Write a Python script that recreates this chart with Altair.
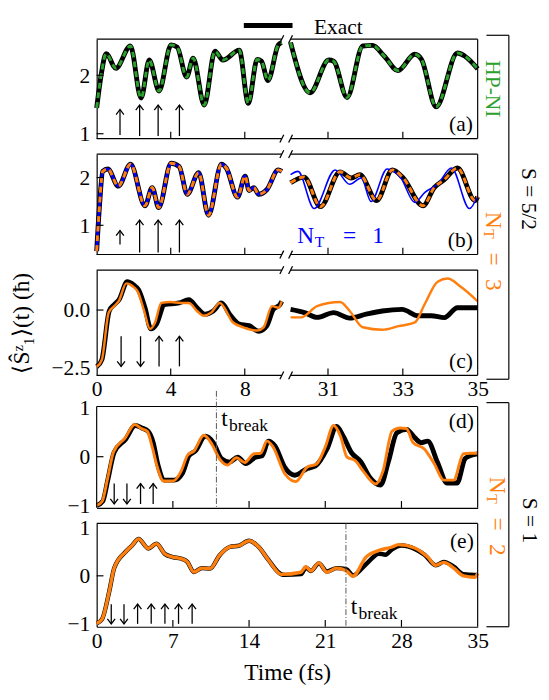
import altair as alt
import pandas as pd

FONT = "Liberation Serif"
ORANGE = "#ff7f0e"
GREEN = "#2ca02c"
BLUE = "#0000ff"
BLACK = "#000000"

# ---------------- data ----------------
# (a) S=5/2, exact (HP-NI coincides)
a_left_t = [0, 0.25, 0.51, 1.04, 1.82, 2.4, 2.84, 3.37, 4.02, 4.35, 4.86, 5.21, 5.81, 6.39, 6.82, 7.7, 8.19, 8.67, 8.9, 9.25, 9.81, 10]
a_left_v = [1.44, 2.02, 2.37, 2.12, 2.50, 1.61, 2.26, 1.73, 2.52, 2.48, 1.97, 2.29, 1.49, 2.41, 2.26, 2.43, 1.52, 2.27, 2.24, 1.91, 2.52, 2.56]
a_right_t = [30.0, 30.52, 31.02, 31.15, 31.51, 31.93, 32.19, 32.5, 32.87, 33.32, 33.5, 33.89, 34.46, 34.65, 35.0]
a_right_v = [2.56, 1.70, 2.26, 2.24, 1.62, 2.50, 2.51, 2.33, 2.08, 2.36, 2.27, 1.46, 2.38, 2.33, 2.11]

# (b) exact (= N_T=3 = N_T=1 at short times)
b_left_t = [0, 0.15, 0.33, 0.6, 1.17, 1.83, 2.61, 3.0, 3.35, 4.02, 4.46, 4.89, 5.51, 6.04, 6.74, 7.0, 7.61, 8.02, 8.23, 8.49, 8.75, 9.2, 9.81, 10]
b_left_v = [0.46, 1.4, 2.13, 2.18, 1.82, 2.28, 1.41, 1.79, 1.37, 2.30, 2.23, 1.65, 2.10, 1.21, 2.28, 2.2, 1.59, 2.03, 1.73, 1.79, 1.65, 1.75, 2.16, 2.13]
b_right_t = [30.0, 30.36, 30.8, 31.32, 31.62, 31.85, 32.3, 32.72, 33.0, 33.54, 33.84, 34.1, 34.46, 34.93, 35.0]
b_right_v = [1.89, 2.01, 1.39, 2.12, 1.99, 2.06, 1.52, 2.16, 2.0, 1.41, 1.79, 1.95, 2.20, 1.52, 1.6]
b_nt1_t = [30.0, 30.2, 30.63, 31.19, 31.58, 31.89, 32.15, 32.58, 32.94, 33.32, 33.59, 33.93, 34.3, 34.78, 35.0]
b_nt1_v = [2.06, 2.13, 1.35, 2.16, 1.86, 1.99, 1.50, 2.18, 2.0, 1.48, 1.69, 1.86, 2.20, 1.35, 1.62]

# (c) exact and N_T=3
c_ex_left_t = [0, 0.28, 0.68, 0.95, 1.21, 1.65, 2.0, 2.26, 2.61, 2.93, 3.23, 3.66, 4.46, 4.98, 5.42, 5.86, 6.3, 6.74, 7.18, 7.7, 8.23, 8.75, 9.19, 9.54, 9.9, 10]
c_ex_left_v = [-2.47, -2.16, -0.04, 0.24, 0.45, 1.23, 1.09, 0.88, 0.1, -0.82, -0.61, 0.24, 0.31, 0.45, 0.1, -0.18, -0.04, 0.31, -0.18, -0.61, -0.68, -0.92, -0.68, 0.03, 0.24, 0.38]
c_nt_left_t = [0, 0.28, 0.65, 0.95, 1.2, 1.6, 2.0, 2.23, 2.55, 2.88, 3.15, 3.49, 4.0, 4.54, 4.98, 5.42, 5.77, 6.2, 6.65, 7.35, 7.88, 8.67, 9.02, 9.47, 9.82, 10]
c_nt_left_v = [-2.47, -2.16, -0.11, 0.17, 0.4, 1.16, 1.0, 0.78, 0.0, -0.82, -0.55, 0.31, 0.35, 0.31, 0.31, -0.04, -0.25, -0.1, 0.31, -0.53, -0.74, -0.89, -0.75, 0.17, 0.1, 0.38]
c_ex_right_t = [30.0, 30.37, 30.71, 31.15, 31.58, 32.02, 32.45, 32.98, 33.41, 33.76, 34.11, 34.46, 35.0]
c_ex_right_v = [0.03, -0.11, -0.32, -0.11, -0.35, -0.18, -0.04, 0.03, -0.25, -0.25, -0.33, 0.1, 0.1]
c_nt_right_t = [30.0, 30.28, 30.71, 31.32, 31.58, 31.93, 32.45, 32.89, 33.32, 33.58, 33.93, 34.2, 34.54, 35.0]
c_nt_right_v = [-0.32, -0.32, 0.17, 0.35, -0.04, -0.75, -0.86, -0.7, -0.54, 0.24, 1.23, 1.37, 1.02, 0.38]

# (d) S=1, exact and N_T=2
d_ex_t = [0, 0.57, 1.0, 1.61, 2.66, 3.55, 4.15, 4.74, 5.19, 5.64, 6.24, 7.13, 7.88, 8.48, 9.07, 9.97, 10.71, 11.46, 12.2, 12.95, 13.7, 14.59, 15.19, 15.78, 16.38, 17.28, 18.2, 19.36, 20.1, 21.16, 22.05, 22.65, 23.39, 24.29, 25.04, 26.08, 26.8, 27.58, 28.47, 29.22, 29.81, 30.41, 31.3, 32.2, 33.1, 33.84, 34.29, 35.0]
d_ex_v = [-1.0, -0.91, -0.5, 0.09, 0.36, 0.64, 0.59, 0.52, 0.29, -0.18, -0.48, -0.48, -0.34, 0.02, 0.12, 0.42, 0.29, -0.04, -0.11, -0.01, -0.14, -0.01, 0.02, 0.32, 0.22, -0.22, -0.38, -0.24, -0.19, 0.16, 0.62, 0.42, 0.09, -0.11, -0.41, -0.58, -0.1, 0.49, 0.56, 0.39, 0.29, 0.32, -0.11, -0.54, -0.54, -0.04, 0.02, 0.06]
d_nt_t = [0, 0.5, 1.0, 1.55, 2.6, 3.5, 4.1, 4.65, 5.1, 5.55, 6.15, 7.0, 7.75, 8.35, 8.95, 9.85, 10.6, 11.3, 12.0, 12.85, 13.6, 14.45, 15.05, 15.65, 16.2, 17.28, 18.3, 19.35, 20.2, 21.0, 21.76, 22.4, 23.0, 23.75, 24.5, 25.63, 26.3, 27.13, 27.87, 28.45, 29.06, 30.1, 31.0, 31.9, 32.8, 33.69, 34.3, 35.0]
d_nt_v = [-1.0, -0.92, -0.45, 0.1, 0.38, 0.66, 0.58, 0.52, 0.2, -0.2, -0.5, -0.5, -0.3, 0.03, 0.12, 0.44, 0.25, -0.05, -0.17, -0.02, -0.12, 0.06, 0.07, 0.32, 0.2, -0.35, -0.51, -0.21, -0.15, 0.2, 0.64, 0.42, -0.01, -0.08, -0.3, -0.56, -0.3, 0.52, 0.59, 0.58, 0.29, 0.16, -0.14, -0.48, -0.48, 0.06, 0.07, 0.07]

# (e) S=1, exact and N_T=2
e_ex_t = [0, 0.5, 1.16, 1.61, 2.66, 3.25, 3.85, 4.74, 5.49, 6.24, 6.98, 7.73, 8.33, 8.92, 9.67, 10.41, 11.3, 12.2, 13.1, 13.99, 14.89, 15.78, 16.98, 17.28, 18.77, 19.22, 19.66, 20.41, 21.16, 22.05, 22.95, 23.54, 24.74, 25.93, 26.53, 27.13, 28.02, 29.22, 30.11, 31.15, 31.9, 32.8, 33.69, 34.74, 35.0]
e_ex_v = [-0.99, -0.9, -0.32, 0.16, 0.5, 0.63, 0.77, 0.57, 0.67, 0.46, 0.39, 0.36, 0.29, 0.08, 0.16, 0.15, 0.43, 0.6, 0.63, 0.73, 0.6, 0.33, 0.03, 0.02, 0.035, 0.17, 0.10, 0.26, 0.09, 0.16, 0.14, 0.01, 0.24, 0.46, 0.44, 0.55, 0.63, 0.56, 0.44, 0.22, 0.29, 0.19, 0.035, 0.02, 0.02]
e_nt_t = [0, 0.5, 1.16, 1.61, 2.66, 3.25, 3.85, 4.74, 5.49, 6.24, 6.98, 7.73, 8.33, 8.92, 9.67, 10.41, 11.3, 12.2, 13.1, 13.99, 14.89, 15.78, 16.98, 18.77, 19.22, 19.66, 20.41, 21.16, 22.05, 22.95, 23.54, 24.74, 25.93, 27.13, 27.72, 29.22, 30.41, 31.15, 31.9, 32.8, 33.69, 34.74, 35.0]
e_nt_v = [-0.99, -0.9, -0.32, 0.16, 0.5, 0.63, 0.77, 0.57, 0.67, 0.46, 0.39, 0.36, 0.29, 0.08, 0.16, 0.15, 0.43, 0.6, 0.63, 0.73, 0.6, 0.33, 0.03, 0.075, 0.19, 0.10, 0.27, 0.075, 0.16, 0.1, -0.01, 0.39, 0.53, 0.6, 0.65, 0.58, 0.39, 0.22, 0.28, 0.16, 0.0, -0.03, 0.05]

# arrows: position, tail value, head value
arrow_a_t = [1.26, 2.32, 3.32, 4.47]
arrow_a_from = [0.98, 0.96, 0.96, 0.96]
arrow_a_to = [1.415, 1.49, 1.49, 1.49]
arrow_b_t = [1.26, 2.32, 3.32, 4.47]
arrow_b_from = [0.60, 0.43, 0.43, 0.43]
arrow_b_to = [0.89, 1.11, 1.11, 1.11]
arrow_c_t = [1.32, 2.37, 3.37, 4.47]
arrow_c_from = [-1.14, -1.14, -2.45, -2.45]
arrow_c_to = [-2.45, -2.45, -1.14, -1.14]
arrow_d_t = [1.61, 2.78, 4.03, 5.19]
arrow_d_from = [-0.55, -0.55, -0.97, -0.97]
arrow_d_to = [-0.97, -0.97, -0.55, -0.55]
arrow_e_t = [1.34, 2.51, 3.76, 5.01, 6.27, 7.52, 8.77]
arrow_e_from = [-0.59, -0.59, -1.0, -1.0, -1.0, -1.0, -1.0]
arrow_e_to = [-1.0, -1.0, -0.59, -0.59, -0.59, -0.59, -0.59]

t_break_d = 11.0
t_break_e = 22.9

# axes
xticks_broken = [0, 4, 8, 31, 33, 35]
xinner_broken = [4, 8, 31, 33]
xticks_full = [0, 7, 14, 21, 28, 35]
xinner_full = [7, 14, 21, 28]
ydom_a = [0.917, 2.617]
ydom_b = [0.388, 2.49]
ydom_c = [-2.84, 1.737]
ydom_d = [-1.05, 1.03]
ydom_d_cell = [-1.05, 1.35]   # extra blank band above (d) to widen the gap to (c)
ydom_e = [-1.06, 1.09]
yticks_a = [1, 2]
yticks_b = [1, 2]
yticks_c = [-2.5, 0.0]
yticks_de = [-1, 0, 1]

legend_label = "Exact"


# broken time axis: 0-10 on the left part, 30-35 on the right part
def uexpr(f):
    return "datum.%s <= 20 ? datum.%s * 19 : 199 + (datum.%s - 30) * 38.4" % (f, f, f)


ULABEL = "datum.value < 195 ? '' + round(datum.value / 19) : '' + round(30 + (datum.value - 199) / 38.4)"

ONE = alt.Data(values=[{"k": 1}])
UP_HEAD = "M-0.65,0.85L0,0L0.65,0.85"
DOWN_HEAD = "M-0.65,-0.85L0,0L0.65,-0.85"
BREAK = "M-0.5,1L0.5,-1"

W = 391


class Panel:
    def __init__(self, broken, ydom, yticks, fmt="d", xlabels=False, xtitle=None, ytitle=None,
                 ydom_scale=None, ydomain_line=True):
        self.broken = broken
        self.ydom = ydom
        if broken:
            self.xsc = alt.Scale(domain=[0, W], nice=False, zero=False)
            vals = [self.u(t) for t in xticks_broken]
            self.xax = alt.Axis(values=vals, labels=xlabels, labelExpr=ULABEL, ticks=False, grid=False,
                                domain=False, labelPadding=4, labelFontSize=22, labelFlush=False,
                                labelOverlap=False, title=xtitle, titleFontSize=24, titlePadding=10)
        else:
            self.xsc = alt.Scale(domain=[0, 35], nice=False, zero=False)
            self.xax = alt.Axis(values=xticks_full, labels=xlabels, ticks=False, grid=False,
                                domain=True, labelPadding=4, labelFontSize=22, labelFlush=False,
                                labelOverlap=False, title=xtitle, titleFontSize=24, titlePadding=10)
        self.ysc = alt.Scale(domain=ydom_scale or ydom, nice=False, zero=False)
        self.yax = alt.Axis(values=yticks, format=fmt, ticks=False, grid=False,
                            domain=ydomain_line, labelPadding=7, labelFontSize=22,
                            labelOverlap=False, title=ytitle, titleFontSize=24, titlePadding=18)

    def u(self, t):
        return t * 19 if t <= 20 else 199 + (t - 30) * 38.4

    def X(self, f="t"):
        name = ("u" + f[1:]) if self.broken else f
        return alt.X(name + ":Q", scale=self.xsc, axis=self.xax)

    def Y(self, f="v"):
        return alt.Y(f + ":Q", scale=self.ysc, axis=self.yax)

    def prep(self, ch, fields=("t",)):
        if self.broken:
            return ch.transform_calculate(**{("u" + f[1:]): uexpr(f) for f in fields})
        return ch

    def line(self, t, v, color, width, dash=None):
        kw = dict(strokeWidth=width, interpolate="monotone")
        if dash:
            kw["strokeDash"] = dash
        df = pd.DataFrame({"t": t, "v": v})
        ch = alt.Chart(df).mark_line(color=color, **kw).encode(x=self.X(), y=self.Y())
        return self.prep(ch)

    def arrows(self, ts, v0, v1):
        df = pd.DataFrame({"t": ts, "v0": v0, "v1": v1})
        out = [self.prep(alt.Chart(df).mark_rule(color=BLACK, strokeWidth=1.3).encode(
            x=self.X(), y=self.Y("v0"), y2=alt.Y2("v1")))]
        up = df[df.v1 > df.v0]
        dn = df[df.v1 < df.v0]
        for sub, shape in ((up, UP_HEAD), (dn, DOWN_HEAD)):
            if len(sub):
                out.append(self.prep(alt.Chart(sub).mark_point(
                    shape=shape, filled=False, size=150, color=BLACK, strokeWidth=1.3, opacity=1
                ).encode(x=self.X(), y=self.Y("v1"))))
        return out

    def frame(self, yin, left_rule=False):
        y0, y1 = self.ydom
        out = []
        xin = xinner_broken if self.broken else xinner_full
        out.append(self.prep(alt.Chart(pd.DataFrame({"t": xin, "v": [y0] * len(xin)}))
                             .mark_tick(orient="vertical", size=7, thickness=1.2, color=BLACK,
                                        yOffset=-3.5, opacity=1).encode(x=self.X(), y=self.Y())))
        out.append(self.prep(alt.Chart(pd.DataFrame({"t": [0] * len(yin), "v": yin}))
                             .mark_tick(orient="horizontal", size=7, thickness=1.2, color=BLACK,
                                        xOffset=3.5, opacity=1).encode(x=self.X(), y=self.Y())))
        out.append(self.prep(alt.Chart(pd.DataFrame({"t": [35], "v": [y0], "v2": [y1]}))
                             .mark_rule(color=BLACK, strokeWidth=1.2)
                             .encode(x=self.X(), y=self.Y(), y2=alt.Y2("v2"))))
        if left_rule:
            out.append(self.prep(alt.Chart(pd.DataFrame({"t": [0], "v": [y0], "v2": [y1]}))
                                 .mark_rule(color=BLACK, strokeWidth=1.2)
                                 .encode(x=self.X(), y=self.Y(), y2=alt.Y2("v2"))))
        if self.broken:
            seg = pd.DataFrame({"t": [0, 30, 0, 30], "t1": [10, 35, 10, 35], "v": [y0, y0, y1, y1]})
            out.append(self.prep(alt.Chart(seg).mark_rule(color=BLACK, strokeWidth=1.2)
                                 .encode(x=self.X(), x2=alt.X2("u1"), y=self.Y()), fields=("t", "t1")))
            out.append(self.prep(alt.Chart(pd.DataFrame({"t": [10, 10, 30, 30], "v": [y0, y1, y0, y1]}))
                                 .mark_point(shape=BREAK, filled=False, size=64, color=BLACK,
                                             strokeWidth=1.3, opacity=1)
                                 .encode(x=self.X(), y=self.Y())))
        else:
            out.append(alt.Chart(pd.DataFrame({"t": [0], "t1": [35], "v": [y1]}))
                       .mark_rule(color=BLACK, strokeWidth=1.2)
                       .encode(x=self.X(), x2=alt.X2("t1"), y=self.Y()))
        return out

    def text(self, text, tx, vy, size, color=BLACK, align="left", baseline="alphabetic", dx=0, dy=0):
        return self.prep(alt.Chart(pd.DataFrame({"t": [tx], "v": [vy]})).mark_text(
            text=text, font=FONT, fontSize=size, color=color, align=align, baseline=baseline,
            dx=dx, dy=dy).encode(x=self.X(), y=self.Y()))

    def tbreak(self, tb, vy):
        return [
            self.prep(alt.Chart(pd.DataFrame({"t": [tb]})).mark_rule(
                color="#555555", strokeWidth=1, strokeDash=[6, 2, 1, 2]).encode(x=self.X())),
            self.text("t", tb, vy, 24, dx=5),
            self.text("break", tb, vy, 18, dx=13, dy=5),
        ]


def ptxt(text, x, y, size, color=BLACK, angle=0, align="left", baseline="alphabetic", dx=0, dy=0):
    return alt.Chart(ONE).mark_text(text=text, font=FONT, fontSize=size, color=color, angle=angle,
                                    align=align, baseline=baseline, dx=dx, dy=dy).encode(
        x=alt.value(x), y=alt.value(y))


def prule(x, y, x2=None, y2=None, width=1.2):
    enc = dict(x=alt.value(x), y=alt.value(y))
    if x2 is not None:
        enc["x2"] = alt.value(x2)
    if y2 is not None:
        enc["y2"] = alt.value(y2)
    return alt.Chart(ONE).mark_rule(color=BLACK, strokeWidth=width).encode(**enc)


def nt_rotated(x, y, digit, color):
    return [
        ptxt("N", x, y, 24, color=color, angle=90, baseline="middle"),
        ptxt("T", x, y, 16, color=color, angle=90, baseline="middle", dx=18, dy=5),
        ptxt("=", x, y, 24, color=color, angle=90, baseline="middle", dx=42),
        ptxt(digit, x, y, 24, color=color, angle=90, baseline="middle", dx=69),
    ]


# ---------------- (a) ----------------
P = Panel(True, ydom_a, yticks_a)
a_panel = alt.layer(
    P.line(a_left_t, a_left_v, BLACK, 5),
    P.line(a_left_t, a_left_v, GREEN, 3, [6, 4]),
    P.line(a_right_t, a_right_v, BLACK, 5),
    P.line(a_right_t, a_right_v, GREEN, 3, [6, 4]),
    *P.arrows(arrow_a_t, arrow_a_from, arrow_a_to),
    *P.frame([1, 2]),
    P.text("(a)", 35, ydom_a[0], 22, align="right", baseline="bottom", dx=-5, dy=-3),
    # legend
    prule(151, -14, x2=201, width=5),
    ptxt(legend_label, 223, -12, 22, baseline="middle"),
    ptxt("HP-NI", 407, 51, 22, color=GREEN, angle=90, align="center", baseline="middle"),
    ptxt("S = 5/2", 444, 164, 22, angle=90, align="center", baseline="middle"),
    prule(423, -4, y2=349),
    prule(400, -4, x2=423),
    prule(400, 349, x2=423),
).properties(width=W, height=102)

# ---------------- (b) ----------------
P = Panel(True, ydom_b, yticks_b)
b_panel = alt.layer(
    P.line(b_left_t, b_left_v, BLACK, 5),
    P.line(b_left_t, b_left_v, BLUE, 3),
    P.line(b_left_t, b_left_v, ORANGE, 3, [6, 4]),
    P.line(b_right_t, b_right_v, BLACK, 5),
    P.line(b_nt1_t, b_nt1_v, BLUE, 1.6),
    P.line(b_right_t, b_right_v, ORANGE, 3, [6, 4]),
    *P.arrows(arrow_b_t, arrow_b_from, arrow_b_to),
    *P.frame([1, 2]),
    P.text("(b)", 35, ydom_b[0], 22, align="right", baseline="bottom", dx=-5, dy=-3),
    P.text("N", 30.18, 0.633, 24, color=BLUE),
    P.text("T", 30.18, 0.633, 16, color=BLUE, dx=18, dy=4),
    P.text("=", 30.18, 0.633, 24, color=BLUE, dx=47),
    P.text("1", 30.18, 0.633, 24, color=BLUE, dx=77),
    *nt_rotated(407, 59, "3", ORANGE),
).properties(width=W, height=103)

# ---------------- (c) ----------------
P = Panel(True, ydom_c, yticks_c, fmt=".1f", xlabels=True, ytitle="⟨Ŝᶻ₁⟩(t) (ħ)")
c_panel = alt.layer(
    P.line(c_ex_left_t, c_ex_left_v, BLACK, 5),
    P.line(c_nt_left_t, c_nt_left_v, ORANGE, 2.5),
    P.line(c_ex_right_t, c_ex_right_v, BLACK, 5),
    P.line(c_nt_right_t, c_nt_right_v, ORANGE, 2.5),
    *P.arrows(arrow_c_t, arrow_c_from, arrow_c_to),
    *P.frame([0.0]),
    P.text("(c)", 35, ydom_c[0], 22, align="right", baseline="bottom", dx=-5, dy=-3),
).properties(width=W, height=108)

# ---------------- (d) ----------------
P = Panel(False, ydom_d, yticks_de, ydom_scale=ydom_d_cell, ydomain_line=False)
d_panel = alt.layer(
    P.line(d_ex_t, d_ex_v, BLACK, 5),
    P.line(d_nt_t, d_nt_v, ORANGE, 3),
    *P.arrows(arrow_d_t, arrow_d_from, arrow_d_to),
    *P.frame([0], left_rule=True),
    *P.tbreak(t_break_d, 0.63),
    P.text("(d)", 35, ydom_d[1], 22, align="right", baseline="top", dx=-4, dy=5),
    *nt_rotated(411, 88, "2", ORANGE),
    ptxt("S = 1", 445, 133, 22, angle=90, align="center", baseline="middle"),
    prule(423, 12, y2=242),
    prule(400, 12, x2=423),
    prule(400, 242, x2=423),
).properties(width=W, height=120)

# ---------------- (e) ----------------
P = Panel(False, ydom_e, yticks_de, xlabels=True, xtitle="Time (fs)")
e_panel = alt.layer(
    P.line(e_ex_t, e_ex_v, BLACK, 4.5),
    P.line(e_nt_t, e_nt_v, ORANGE, 3.5),
    *P.arrows(arrow_e_t, arrow_e_from, arrow_e_to),
    *P.frame([0]),
    *P.tbreak(t_break_e, -0.796),
    P.text("(e)", 35, ydom_e[1], 22, align="right", baseline="top", dx=-4, dy=8),
).properties(width=W, height=106)

chart = alt.vconcat(a_panel, b_panel, c_panel, d_panel, e_panel, spacing=16, bounds="flush").properties(
    padding={"left": 2, "top": 0, "right": 0, "bottom": 0}
).configure(font=FONT).configure_view(stroke=None).configure_axis(
    labelFont=FONT, titleFont=FONT, labelColor=BLACK, titleColor=BLACK,
    domainColor=BLACK, domainWidth=1.2, titleFontWeight="normal"
)

chart.save("out.html", embed_options={"renderer": "svg", "actions": False})
